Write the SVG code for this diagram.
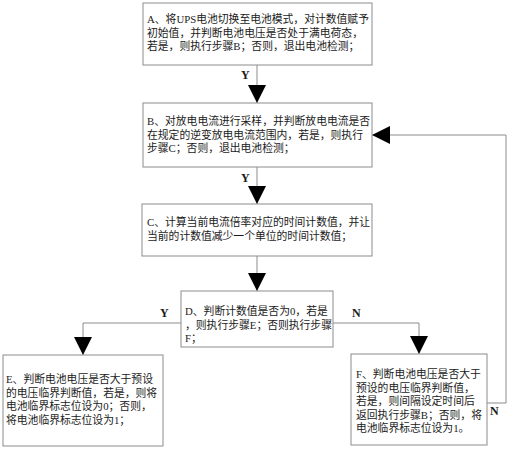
<svg xmlns="http://www.w3.org/2000/svg" width="510" height="450" viewBox="0 0 510 450">
<defs>
<marker id="ah" viewBox="0 0 18 20" refX="18" refY="10" markerWidth="18" markerHeight="20" markerUnits="userSpaceOnUse" orient="auto"><path d="M0,1 L18,10 L0,19 Z" fill="#000"/></marker>
<style>
.box{fill:#fff;stroke:#8c8c8c;stroke-width:1}
.t{font-family:"Liberation Serif","Noto Sans CJK SC",serif;font-size:10.8px;fill:#1a1a1a}
.lbl{font-family:"Liberation Serif",serif;font-size:12px;font-weight:bold;fill:#1a1a1a}
.ln{fill:none;stroke:#8c8c8c;stroke-width:1}
</style>
</defs>
<rect width="510" height="450" fill="#fff"/>
<g id="connectors">
<path class="ln" d="M257,65 V103" marker-end="url(#ah)"/>
<path class="ln" d="M257,167 V204" marker-end="url(#ah)"/>
<path class="ln" d="M257,256 V291" marker-end="url(#ah)"/>
<path class="ln" d="M181,323 H83 V355" marker-end="url(#ah)"/>
<path class="ln" d="M333,323 H419 V354" marker-end="url(#ah)"/>
<path class="ln" d="M487,403 H506 V135 H372" marker-end="url(#ah)"/>
<text class="lbl" x="241" y="79">Y</text>
<text class="lbl" x="241" y="182">Y</text>
<text class="lbl" x="160" y="317">Y</text>
<text class="lbl" x="352" y="317">N</text>
<text class="lbl" x="490" y="415">N</text>
</g>
<g id="A">
<rect class="box" x="143" y="3" width="229" height="62"/>
<text class="t"><tspan x="147" y="23">A、将UPS电池切换至电池模式，对计数值赋予</tspan><tspan x="147" y="36.5">初始值，并判断电池电压是否处于满电荷态，</tspan><tspan x="147" y="50">若是，则执行步骤B；否则，退出电池检测；</tspan></text>
</g>
<g id="B">
<rect class="box" x="143" y="103" width="229" height="64"/>
<text class="t"><tspan x="147" y="125">B、对放电电流进行采样，并判断放电电流是否</tspan><tspan x="147" y="138.5">在规定的逆变放电电流范围内，若是，则执行</tspan><tspan x="147" y="152">步骤C；否则，退出电池检测；</tspan></text>
</g>
<g id="C">
<rect class="box" x="142" y="204" width="230" height="52"/>
<text class="t"><tspan x="147" y="226">C、计算当前电流倍率对应的时间计数值，并让</tspan><tspan x="147" y="239.5">当前的计数值减少一个单位的时间计数值；</tspan></text>
</g>
<g id="D">
<rect class="box" x="181" y="291" width="152" height="56"/>
<text class="t"><tspan x="185" y="315">D、判断计数值是否为0，若是</tspan><tspan x="185" y="328.5">，则执行步骤E；否则执行步骤</tspan><tspan x="185" y="342">F；</tspan></text>
</g>
<g id="E">
<rect class="box" x="3" y="355" width="160" height="91"/>
<text class="t"><tspan x="6" y="383">E、判断电池电压是否大于预设</tspan><tspan x="6" y="396.5">的电压临界判断值，若是，则将</tspan><tspan x="6" y="410">电池临界标志位设为0；否则，</tspan><tspan x="6" y="423.5">将电池临界标志位设为1；</tspan></text>
</g>
<g id="F">
<rect class="box" x="351" y="354" width="136" height="91"/>
<text class="t"><tspan x="356" y="378">F、判断电池电压是否大于</tspan><tspan x="356" y="391.5">预设的电压临界判断值，</tspan><tspan x="356" y="405">若是，则间隔设定时间后</tspan><tspan x="356" y="418.5">返回执行步骤B；否则，将</tspan><tspan x="356" y="432">电池临界标志位设为1。</tspan></text>
</g>
</svg>
